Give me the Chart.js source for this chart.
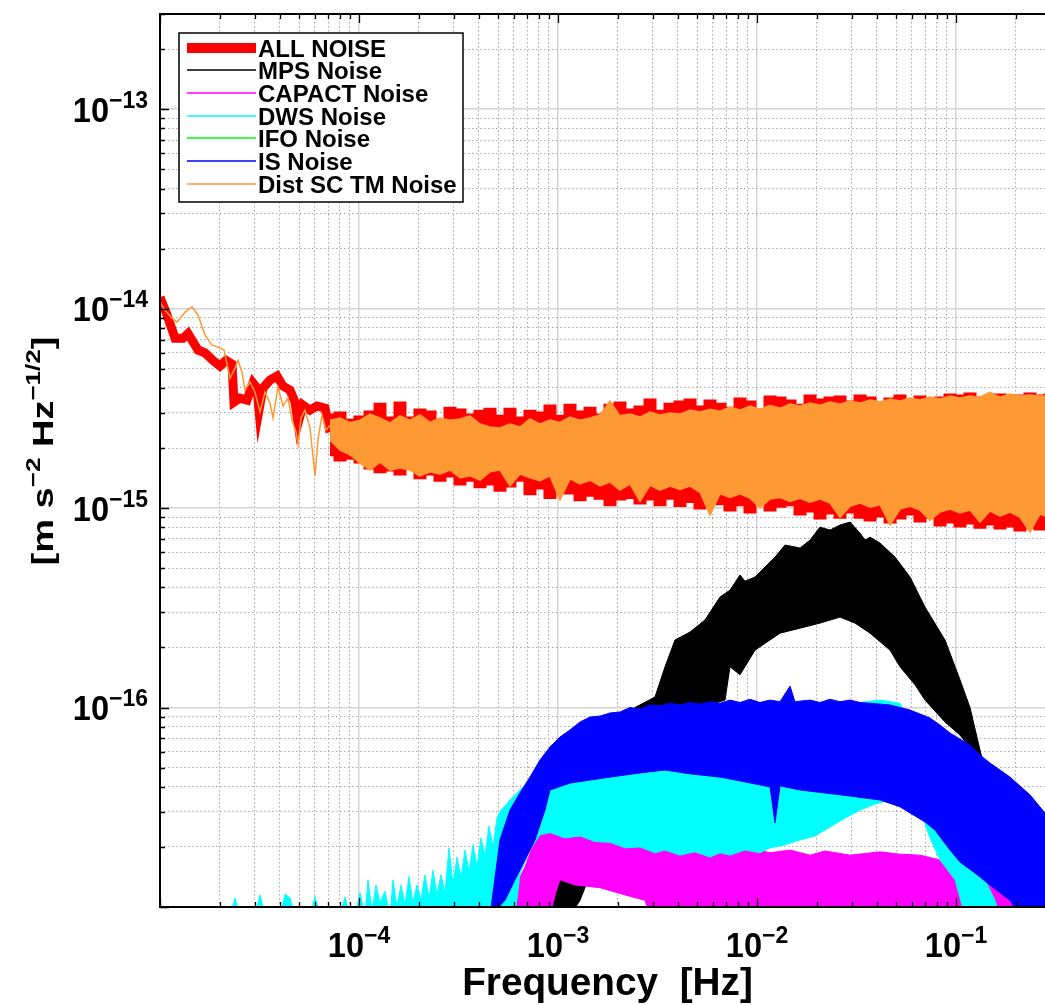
<!DOCTYPE html>
<html>
<head>
<meta charset="utf-8">
<title>Noise budget</title>
<script src="https://cdn.jsdelivr.net/npm/chart.js@4.4.1/dist/chart.umd.min.js"></script>
<style>
  html, body { margin: 0; padding: 0; background: #fff; overflow: hidden; }
  #wrap { position: relative; width: 1056px; height: 1005px; }
</style>
</head>
<body>
<div id="wrap"><canvas id="noiseChart"></canvas></div>
<script>
// axis ranges and tick decades
const X_MIN = 1.0e-5, X_MAX = 0.3144;
const Y_MIN = 1.0e-17, Y_MAX = 3.0e-13;
const X_DECADES = [1e-5, 1e-4, 1e-3, 1e-2, 1e-1];
const Y_DECADES = [1e-17, 1e-16, 1e-15, 1e-14, 1e-13];
const MANTISSAS = [1, 2, 3, 4, 5, 6, 7, 8, 9];
const X_LABELS = [1e-4, 1e-3, 1e-2, 1e-1];
const Y_LABELS = [1e-16, 1e-15, 1e-14, 1e-13];

// ALL NOISE - low frequency part (single thick trace)
const allLineFreq = [1.0e-5, 1.084e-5, 1.19e-5, 1.305e-5, 1.383e-5, 1.553e-5, 1.683e-5, 1.846e-5, 2.002e-5, 2.146e-5, 2.3e-5, 2.354e-5, 2.523e-5, 2.736e-5, 2.933e-5, 3.072e-5, 3.144e-5, 3.293e-5, 3.571e-5, 3.873e-5, 4.15e-5, 4.5e-5, 4.77e-5, 4.94e-5, 5.23e-5, 5.672e-5, 6.15e-5, 6.75e-5, 7.149e-5];
const allLineVal = [1.14e-14, 9.3e-15, 7.1e-15, 7.1e-15, 7.5e-15, 6.2e-15, 6.0e-15, 5.5e-15, 5.15e-15, 5.5e-15, 5.27e-15, 3.4e-15, 3.56e-15, 3.48e-15, 4.24e-15, 4.0e-15, 3.1e-15, 4.0e-15, 4.38e-15, 4.59e-15, 4.09e-15, 3.9e-15, 3.4e-15, 2.67e-15, 3.28e-15, 3.1e-15, 3.25e-15, 3.17e-15, 2.4e-15];

// common frequency grid for the two top bands
const bandFreq = [7.149e-5, 8.026e-5, 9.01e-5, 1.012e-4, 1.136e-4, 1.275e-4, 1.431e-4, 1.607e-4, 1.804e-4, 2.025e-4, 2.274e-4, 2.553e-4, 2.866e-4, 3.217e-4, 3.612e-4, 4.055e-4, 4.552e-4, 5.11e-4, 5.737e-4, 6.441e-4, 7.231e-4, 8.118e-4, 9.114e-4, 1.023e-3, 1.149e-3, 1.29e-3, 1.448e-3, 1.626e-3, 1.825e-3, 2.049e-3, 2.3e-3, 2.583e-3, 2.9e-3, 3.255e-3, 3.655e-3, 4.103e-3, 4.606e-3, 5.172e-3, 5.806e-3, 6.518e-3, 7.318e-3, 8.215e-3, 9.223e-3, 1.035e-2, 1.163e-2, 1.305e-2, 1.465e-2, 1.645e-2, 1.847e-2, 2.073e-2, 2.328e-2, 2.613e-2, 2.934e-2, 3.294e-2, 3.698e-2, 4.151e-2, 4.661e-2, 5.232e-2, 5.874e-2, 6.595e-2, 7.404e-2, 8.312e-2, 9.33e-2, 0.1047, 0.1176, 0.132, 0.1482, 0.1664, 0.1868, 0.2097, 0.2354, 0.2643, 0.2967, 0.3331];

// ALL NOISE - upper / lower envelope of the band
const allBandTop = [2.93e-15, 3.0e-15, 2.76e-15, 2.86e-15, 3.03e-15, 3.32e-15, 2.83e-15, 3.36e-15, 2.83e-15, 3.1e-15, 3.03e-15, 2.76e-15, 3.17e-15, 3.1e-15, 2.93e-15, 3.06e-15, 3.13e-15, 2.89e-15, 3.13e-15, 2.83e-15, 3.06e-15, 3.0e-15, 3.25e-15, 2.89e-15, 3.28e-15, 3.03e-15, 3.17e-15, 2.93e-15, 3.28e-15, 3.36e-15, 3.1e-15, 3.21e-15, 3.48e-15, 3.06e-15, 3.32e-15, 3.4e-15, 3.48e-15, 3.21e-15, 3.44e-15, 3.32e-15, 3.17e-15, 3.52e-15, 3.4e-15, 3.1e-15, 3.6e-15, 3.56e-15, 3.44e-15, 3.28e-15, 3.65e-15, 3.48e-15, 3.56e-15, 3.6e-15, 3.4e-15, 3.65e-15, 3.56e-15, 3.36e-15, 3.52e-15, 3.65e-15, 3.44e-15, 3.6e-15, 3.48e-15, 3.56e-15, 3.69e-15, 3.65e-15, 3.73e-15, 3.56e-15, 3.65e-15, 3.69e-15, 3.6e-15, 3.65e-15, 3.73e-15, 3.65e-15, 3.69e-15, 3.65e-15];
const allBandBot = [1.85e-15, 1.74e-15, 1.78e-15, 1.7e-15, 1.59e-15, 1.52e-15, 1.55e-15, 1.48e-15, 1.63e-15, 1.42e-15, 1.48e-15, 1.38e-15, 1.45e-15, 1.32e-15, 1.38e-15, 1.28e-15, 1.32e-15, 1.23e-15, 1.29e-15, 1.38e-15, 1.18e-15, 1.26e-15, 1.13e-15, 1.23e-15, 1.19e-15, 1.1e-15, 1.16e-15, 1.12e-15, 1.04e-15, 1.11e-15, 1.13e-15, 1.06e-15, 1.11e-15, 1.04e-15, 1.12e-15, 1.03e-15, 1.08e-15, 1.0e-15, 1.1e-15, 1.05e-15, 9.77e-16, 1.04e-15, 9.55e-16, 1.08e-15, 9.77e-16, 1.02e-15, 1.04e-15, 9.33e-16, 9.66e-16, 8.91e-16, 9.44e-16, 9.0e-16, 9.55e-16, 9.0e-16, 8.71e-16, 9.12e-16, 8.51e-16, 8.91e-16, 9.33e-16, 8.61e-16, 9.0e-16, 8.22e-16, 8.51e-16, 8.12e-16, 8.41e-16, 8.02e-16, 8.31e-16, 7.94e-16, 8.12e-16, 7.76e-16, 8.02e-16, 7.85e-16, 7.94e-16, 7.76e-16];

// MPS Noise
const mpsTopFreq = [8.603e-4, 9.114e-4, 1.023e-3, 1.217e-3, 1.448e-3, 1.825e-3, 2.437e-3, 3.072e-3, 3.449e-3, 3.871e-3, 4.606e-3, 5.478e-3, 6.518e-3, 7.318e-3, 8.215e-3, 8.703e-3, 9.771e-3, 1.232e-2, 1.383e-2, 1.552e-2, 1.645e-2, 1.847e-2, 2.073e-2, 2.328e-2, 2.613e-2, 2.934e-2, 3.294e-2, 3.49e-2, 3.698e-2, 4.151e-2, 4.938e-2, 5.874e-2, 6.986e-2, 8.806e-2, 0.1047, 0.1176, 0.132, 0.1482, 0.1664];
const mpsTop = [9e-18, 1.45e-17, 1.82e-17, 2.91e-17, 4.33e-17, 6.49e-17, 1.0e-16, 1.13e-16, 1.6e-16, 2.18e-16, 2.39e-16, 2.75e-16, 3.58e-16, 3.88e-16, 4.62e-16, 4.3e-16, 4.51e-16, 5.68e-16, 6.53e-16, 6.38e-16, 6.3e-16, 6.91e-16, 8.03e-16, 7.76e-16, 8.22e-16, 8.51e-16, 7.49e-16, 6.91e-16, 7.15e-16, 6.68e-16, 5.68e-16, 4.51e-16, 3.19e-16, 2.18e-16, 1.38e-16, 1.0e-16, 6.12e-17, 3.86e-17, 2.43e-17];
const mpsBotFreq = [8.603e-4, 1.149e-3, 1.29e-3, 1.448e-3, 1.825e-3, 2.437e-3, 3.255e-3, 4.606e-3, 5.806e-3, 6.905e-3, 7.318e-3, 8.215e-3, 9.771e-3, 1.305e-2, 1.645e-2, 2.073e-2, 2.613e-2, 3.108e-2, 3.698e-2, 4.661e-2, 5.232e-2, 6.223e-2, 6.986e-2, 8.806e-2, 0.1047, 0.132, 0.1482, 0.1664];
const mpsBot = [9e-18, 9e-18, 1.08e-17, 1.45e-17, 2.17e-17, 3.86e-17, 6.12e-17, 8.66e-17, 1.03e-16, 1.09e-16, 1.6e-16, 1.46e-16, 1.94e-16, 2.36e-16, 2.5e-16, 2.65e-16, 2.84e-16, 2.65e-16, 2.36e-16, 1.94e-16, 1.6e-16, 1.3e-16, 1.09e-16, 8.46e-17, 7.28e-17, 5.46e-17, 3.65e-17, 2.3e-17];

// CAPACT Noise
const capTopFreq = [5.416e-4, 5.737e-4, 6.08e-4, 6.826e-4, 7.663e-4, 8.603e-4, 9.658e-4, 1.023e-3, 1.149e-3, 1.29e-3, 1.448e-3, 1.626e-3, 1.825e-3, 2.171e-3, 2.583e-3, 3.072e-3, 3.655e-3, 4.346e-3, 5.172e-3, 6.518e-3, 7.752e-3, 9.223e-3, 1.163e-2, 1.465e-2, 1.847e-2, 2.196e-2, 2.934e-2, 4.151e-2, 5.232e-2, 6.595e-2, 8.312e-2, 0.1047, 0.132, 0.1664, 0.1868, 0.2097, 0.2222];
const capTop = [9e-18, 1.08e-17, 1.26e-17, 1.59e-17, 2.17e-17, 2.43e-17, 2.96e-17, 2.58e-17, 2.52e-17, 2.73e-17, 2.43e-17, 2.55e-17, 2.24e-17, 2.36e-17, 2.11e-17, 2.17e-17, 1.93e-17, 2.05e-17, 1.95e-17, 2.0e-17, 1.87e-17, 1.98e-17, 1.87e-17, 1.93e-17, 1.82e-17, 1.91e-17, 1.82e-17, 1.89e-17, 1.84e-17, 1.82e-17, 1.72e-17, 1.6e-17, 1.47e-17, 1.37e-17, 1.29e-17, 1.18e-17, 9e-18];
const capBotFreq = [5.416e-4, 9.114e-4, 9.658e-4, 1.023e-3, 1.217e-3, 1.626e-3, 2.171e-3, 2.736e-3, 2.9e-3, 0.2222];
const capBot = [9e-18, 9e-18, 1.15e-17, 1.37e-17, 1.29e-17, 1.25e-17, 1.15e-17, 1.08e-17, 9e-18, 9e-18];

// DWS Noise
const dwsTopFreq = [2.248e-5, 2.381e-5, 2.523e-5, 3.001e-5, 3.181e-5, 3.37e-5, 4.009e-5, 4.248e-5, 4.5e-5, 4.77e-5, 5.672e-5, 6.01e-5, 6.368e-5, 8.026e-5, 8.505e-5, 9.01e-5, 9.548e-5, 1.012e-4, 1.072e-4, 1.110e-4, 1.162e-4, 1.217e-4, 1.275e-4, 1.351e-4, 1.431e-4, 1.482e-4, 1.552e-4, 1.626e-4, 1.703e-4, 1.784e-4, 1.868e-4, 1.957e-4, 2.049e-4, 2.146e-4, 2.248e-4, 2.354e-4, 2.466e-4, 2.582e-4, 2.705e-4, 2.833e-4, 2.968e-4, 3.108e-4, 3.256e-4, 3.409e-4, 3.571e-4, 3.740e-4, 3.917e-4, 4.103e-4, 4.297e-4, 4.5e-4, 4.714e-4, 4.937e-4, 5.11e-4, 5.737e-4, 6.441e-4, 8.118e-4, 1.023e-3, 1.626e-3, 2.9e-3, 5.172e-3, 9.223e-3, 1.645e-2, 2.613e-2, 3.294e-2, 4.151e-2, 5.232e-2, 6.595e-2, 8.312e-2, 0.1047, 0.1246, 0.1399, 0.157, 0.1664];
const dwsTop = [9e-18, 1.11e-17, 9e-18, 9e-18, 1.15e-17, 9e-18, 9e-18, 1.16e-17, 1.11e-17, 9e-18, 9e-18, 1.13e-17, 9e-18, 9e-18, 1.12e-17, 9e-18, 9e-18, 1.18e-17, 9e-18, 1.37e-17, 9.5e-18, 1.29e-17, 1.05e-17, 1.2e-17, 9e-18, 1.37e-17, 1.0e-17, 1.29e-17, 1.03e-17, 1.42e-17, 1.05e-17, 1.29e-17, 1.08e-17, 1.45e-17, 1.1e-17, 1.53e-17, 1.15e-17, 1.45e-17, 1.18e-17, 1.98e-17, 1.3e-17, 1.78e-17, 1.4e-17, 1.93e-17, 1.5e-17, 2.05e-17, 1.6e-17, 2.22e-17, 1.8e-17, 2.55e-17, 2.0e-17, 2.8e-17, 3.0e-17, 3.44e-17, 3.86e-17, 4.86e-17, 6.12e-17, 8.17e-17, 8.86e-17, 9.06e-17, 9.5e-17, 9.71e-17, 1.02e-16, 1.06e-16, 1.09e-16, 1.05e-16, 6.87e-17, 4.59e-17, 2.73e-17, 1.72e-17, 1.37e-17, 1.08e-17, 9e-18];
const dwsBotFreq = [2.248e-5, 6.08e-4, 6.441e-4, 7.231e-4, 8.118e-4, 9.114e-4, 1.084e-3, 1.29e-3, 1.534e-3, 1.825e-3, 2.171e-3, 2.583e-3, 3.072e-3, 3.449e-3, 4.103e-3, 4.88e-3, 5.806e-3, 6.518e-3, 7.318e-3, 8.703e-3, 1.035e-2, 1.163e-2, 1.383e-2, 1.645e-2, 1.956e-2, 2.196e-2, 2.769e-2, 3.294e-2, 3.918e-2, 4.661e-2, 5.543e-2, 6.595e-2, 7.404e-2, 8.312e-2, 9.886e-2, 0.111, 0.1664];
const dwsBot = [9e-18, 9e-18, 1.47e-17, 1.93e-17, 2.3e-17, 2.36e-17, 2.22e-17, 2.27e-17, 2.13e-17, 2.11e-17, 1.98e-17, 2.0e-17, 1.87e-17, 1.93e-17, 1.82e-17, 1.89e-17, 1.78e-17, 1.87e-17, 1.82e-17, 1.93e-17, 1.87e-17, 1.98e-17, 2.05e-17, 2.17e-17, 2.27e-17, 2.43e-17, 2.79e-17, 3.06e-17, 3.28e-17, 3.44e-17, 3.36e-17, 3.06e-17, 2.22e-17, 1.72e-17, 1.37e-17, 9e-18, 9e-18];

// IFO Noise - stays below the plotted range, nothing visible
const ifoFreq = [];
const ifoVal = [];

// IS Noise
const isTopFreq = [4.552e-4, 5.11e-4, 5.737e-4, 6.441e-4, 7.231e-4, 8.118e-4, 9.114e-4, 1.023e-3, 1.149e-3, 1.29e-3, 1.448e-3, 1.626e-3, 1.825e-3, 2.049e-3, 2.3e-3, 2.583e-3, 2.9e-3, 3.255e-3, 3.655e-3, 4.103e-3, 4.606e-3, 5.172e-3, 5.806e-3, 6.518e-3, 7.318e-3, 8.215e-3, 9.223e-3, 1.035e-2, 1.163e-2, 1.305e-2, 1.465e-2, 1.552e-2, 1.847e-2, 2.073e-2, 2.328e-2, 2.613e-2, 2.934e-2, 3.294e-2, 3.698e-2, 4.151e-2, 4.661e-2, 5.232e-2, 5.874e-2, 6.595e-2, 7.404e-2, 8.312e-2, 9.33e-2, 0.1047, 0.1176, 0.132, 0.1482, 0.1664, 0.1868, 0.2097, 0.2354, 0.28, 0.3331];
const isTop = [9e-18, 2.17e-17, 3.06e-17, 3.73e-17, 4.48e-17, 5.46e-17, 6.34e-17, 7.11e-17, 7.72e-17, 8.46e-17, 8.96e-17, 9.06e-17, 9.39e-17, 9.5e-17, 1.0e-16, 9.83e-17, 1.03e-16, 1.02e-16, 1.05e-16, 1.03e-16, 1.06e-16, 1.04e-16, 1.07e-16, 1.05e-16, 1.09e-16, 1.06e-16, 1.1e-16, 1.06e-16, 1.09e-16, 1.07e-16, 1.28e-16, 1.07e-16, 1.09e-16, 1.06e-16, 1.1e-16, 1.07e-16, 1.09e-16, 1.06e-16, 1.05e-16, 1.04e-16, 1.03e-16, 1.0e-16, 9.71e-17, 9.28e-17, 8.86e-17, 8.17e-17, 7.45e-17, 6.95e-17, 6.49e-17, 5.78e-17, 5.27e-17, 4.86e-17, 4.48e-17, 4.04e-17, 3.65e-17, 2.96e-17, 2.67e-17];
const isBotFreq = [4.552e-4, 5.416e-4, 6.08e-4, 6.826e-4, 7.663e-4, 8.603e-4, 9.114e-4, 1.149e-3, 1.448e-3, 1.825e-3, 2.583e-3, 3.449e-3, 4.606e-3, 6.518e-3, 8.703e-3, 1.163e-2, 1.232e-2, 1.305e-2, 1.645e-2, 2.196e-2, 2.934e-2, 4.151e-2, 5.232e-2, 5.874e-2, 6.986e-2, 7.843e-2, 9.33e-2, 0.1047, 0.1246, 0.1482, 0.1664, 0.1868, 0.2097, 0.3331];
const isBot = [9e-18, 1.08e-17, 1.37e-17, 1.72e-17, 2.17e-17, 3.06e-17, 3.86e-17, 4.18e-17, 4.33e-17, 4.48e-17, 4.7e-17, 4.86e-17, 4.65e-17, 4.48e-17, 4.24e-17, 4.0e-17, 2.64e-17, 4.05e-17, 3.86e-17, 3.73e-17, 3.6e-17, 3.44e-17, 3.18e-17, 2.96e-17, 2.67e-17, 2.43e-17, 1.93e-17, 1.68e-17, 1.48e-17, 1.29e-17, 1.18e-17, 1.08e-17, 9e-18, 9e-18];

// Dist SC TM Noise - low frequency trace, then band
const distLineFreq = [1.0e-5, 1.059e-5, 1.149e-5, 1.217e-5, 1.335e-5, 1.448e-5, 1.553e-5, 1.683e-5, 1.825e-5, 1.956e-5, 2.097e-5, 2.248e-5, 2.381e-5, 2.466e-5, 2.582e-5, 2.674e-5, 2.833e-5, 3.001e-5, 3.181e-5, 3.37e-5, 3.571e-5, 3.696e-5, 3.917e-5, 4.15e-5, 4.397e-5, 4.605e-5, 4.825e-5, 4.94e-5, 5.11e-5, 5.355e-5, 5.672e-5, 6.01e-5, 6.22e-5, 6.52e-5, 6.83e-5, 7.149e-5];
const distLineVal = [1.07e-14, 9.83e-15, 8.96e-15, 8.56e-15, 9.6e-15, 1.02e-14, 9.27e-15, 7.37e-15, 6.56e-15, 6.41e-15, 6.2e-15, 4.48e-15, 5.03e-15, 5.5e-15, 4.8e-15, 3.9e-15, 4.28e-15, 3.81e-15, 3.03e-15, 3.81e-15, 3.36e-15, 2.83e-15, 4.04e-15, 3.25e-15, 3.56e-15, 2.76e-15, 2.41e-15, 2.07e-15, 2.83e-15, 3.1e-15, 2.52e-15, 1.45e-15, 2.2e-15, 2.93e-15, 2.46e-15, 2.6e-15];
const distBandTop = [2.76e-15, 2.83e-15, 2.69e-15, 2.76e-15, 2.96e-15, 2.83e-15, 2.67e-15, 2.9e-15, 2.76e-15, 2.93e-15, 2.69e-15, 2.83e-15, 2.76e-15, 2.8e-15, 2.9e-15, 2.64e-15, 2.55e-15, 2.52e-15, 2.64e-15, 2.55e-15, 2.8e-15, 2.64e-15, 2.76e-15, 2.69e-15, 2.86e-15, 2.76e-15, 2.83e-15, 2.93e-15, 3.44e-15, 2.9e-15, 2.96e-15, 2.86e-15, 3.03e-15, 2.93e-15, 3.0e-15, 2.96e-15, 3.1e-15, 3.03e-15, 3.13e-15, 3.06e-15, 3.21e-15, 3.1e-15, 3.25e-15, 3.13e-15, 3.28e-15, 3.17e-15, 3.32e-15, 3.25e-15, 3.36e-15, 3.28e-15, 3.4e-15, 3.32e-15, 3.44e-15, 3.36e-15, 3.48e-15, 3.4e-15, 3.52e-15, 3.44e-15, 3.56e-15, 3.48e-15, 3.6e-15, 3.52e-15, 3.65e-15, 3.56e-15, 3.65e-15, 3.6e-15, 3.8e-15, 3.6e-15, 3.73e-15, 3.65e-15, 3.69e-15, 3.65e-15, 3.65e-15, 3.65e-15];
const distBandBot = [2.19e-15, 1.95e-15, 1.85e-15, 1.68e-15, 1.55e-15, 1.7e-15, 1.55e-15, 1.59e-15, 1.55e-15, 1.45e-15, 1.52e-15, 1.48e-15, 1.55e-15, 1.42e-15, 1.45e-15, 1.38e-15, 1.52e-15, 1.55e-15, 1.29e-15, 1.48e-15, 1.42e-15, 1.37e-15, 1.45e-15, 1.1e-15, 1.4e-15, 1.32e-15, 1.38e-15, 1.29e-15, 1.35e-15, 1.23e-15, 1.32e-15, 1.08e-15, 1.3e-15, 1.23e-15, 1.29e-15, 1.24e-15, 1.29e-15, 1.2e-15, 9.22e-16, 1.18e-15, 1.13e-15, 1.18e-15, 1.12e-15, 1.0e-15, 1.11e-15, 1.13e-15, 1.08e-15, 1.12e-15, 1.07e-15, 1.11e-15, 1.06e-15, 9.0e-16, 1.02e-15, 1.06e-15, 1.01e-15, 1.04e-15, 8.22e-16, 9.88e-16, 1.02e-15, 9.77e-16, 8.7e-16, 9.55e-16, 9.88e-16, 9.44e-16, 9.77e-16, 8.5e-16, 9.66e-16, 9.12e-16, 9.55e-16, 9.0e-16, 7.58e-16, 9.33e-16, 8.91e-16, 9.12e-16];

const FONT = '"Liberation Sans", Arial, Helvetica, sans-serif';
const MINUS = '\u2212';

function toPoints(freqs, vals) {
    return freqs.map((f, i) => ({ x: f, y: vals[i] }));
}

function isDecade(v) {
    const l = Math.log10(v);
    return Math.abs(l - Math.round(l)) < 1e-6;
}

function buildTicks(decades, min, max) {
    const out = [];
    decades.forEach(d => {
        MANTISSAS.forEach(m => {
            const v = Number((m * d).toPrecision(6));
            if (v >= min && v <= max) out.push({ value: v });
        });
    });
    return out;
}

// one trace of a series (a line, or the upper edge of a filled band)
function trace(label, data, color, width, order, extra) {
    return Object.assign({
        label: label,
        data: data,
        borderColor: color,
        backgroundColor: color,
        borderWidth: width,
        pointRadius: 0,
        tension: 0,
        fill: false,
        order: order
    }, extra || {});
}

// upper + lower edge pair, upper one fills down to the lower one
function band(label, topFreq, top, botFreq, bot, color, width, order, extra) {
    return [
        trace(label, toPoints(topFreq, top), color, width, order, Object.assign({ fill: '+1' }, extra || {})),
        trace(label, toPoints(botFreq, bot), color, width, order, extra)
    ];
}

const datasets = [
    trace('ALL NOISE', toPoints(allLineFreq, allLineVal), '#ff0000', 9, 7),
    ...band('ALL NOISE', bandFreq, allBandTop, bandFreq, allBandBot, '#ff0000', 3, 7, { stepped: 'middle' }),
    ...band('MPS Noise', mpsTopFreq, mpsTop, mpsBotFreq, mpsBot, '#000000', 1, 6),
    ...band('CAPACT Noise', capTopFreq, capTop, capBotFreq, capBot, '#ff00ff', 1, 5),
    ...band('DWS Noise', dwsTopFreq, dwsTop, dwsBotFreq, dwsBot, '#00ffff', 1, 4),
    trace('IFO Noise', toPoints(ifoFreq, ifoVal), '#00ff00', 1, 3),
    ...band('IS Noise', isTopFreq, isTop, isBotFreq, isBot, '#0000ff', 1, 2),
    trace('Dist SC TM Noise', toPoints(distLineFreq, distLineVal), '#ff9933', 1.5, 1),
    ...band('Dist SC TM Noise', bandFreq, distBandTop, bandFreq, distBandBot, '#ff9933', 1.5, 1)
];

// legend entries: first dataset of each label
const legendEntries = [];
datasets.forEach(ds => {
    if (!legendEntries.find(e => e.label === ds.label)) {
        legendEntries.push({ label: ds.label, color: ds.borderColor, width: ds.label === 'ALL NOISE' ? 10 : 1.5 });
    }
});

function drawSqueezed(ctx, text, x, y, size, sx) {
    ctx.save();
    ctx.font = `bold ${size}px ${FONT}`;
    ctx.translate(x, y);
    ctx.scale(sx, 1);
    ctx.fillText(text, 0, 0);
    ctx.restore();
}

function textWidth(ctx, text, size, sx) {
    ctx.save();
    ctx.font = `bold ${size}px ${FONT}`;
    const w = ctx.measureText(text).width * sx;
    ctx.restore();
    return w;
}

// "10" with a raised exponent
function drawPower(ctx, exp, x, y, align) {
    const BASE = 35, BASE_SQ = 0.93, SUP = 23, RAISE = 14;
    const expText = (exp < 0 ? MINUS : '') + Math.abs(exp);
    const wb = textWidth(ctx, '10', BASE, BASE_SQ);
    const we = textWidth(ctx, expText, SUP, 1);
    const left = align === 'center' ? x - (wb + we) / 2 : x - wb - we;
    drawSqueezed(ctx, '10', left, y, BASE, BASE_SQ);
    drawSqueezed(ctx, expText, left + wb, y - RAISE, SUP, 1);
}

const matlabAxes = {
    id: 'matlabAxes',
    afterDatasetsDraw(chart) {
        const { ctx, chartArea: a, scales } = chart;
        const xs = scales.x, ys = scales.y;
        ctx.save();
        ctx.strokeStyle = '#000';
        ctx.lineWidth = 1.3;
        ctx.beginPath();
        xs.ticks.forEach(t => {
            const px = Math.round(xs.getPixelForValue(t.value)) + 0.5;
            const len = isDecade(t.value) ? 9 : 5;
            ctx.moveTo(px, a.bottom); ctx.lineTo(px, a.bottom - len);
            ctx.moveTo(px, a.top); ctx.lineTo(px, a.top + len);
        });
        ys.ticks.forEach(t => {
            const py = Math.round(ys.getPixelForValue(t.value)) + 0.5;
            const len = isDecade(t.value) ? 9 : 5;
            ctx.moveTo(a.left, py); ctx.lineTo(a.left + len, py);
            ctx.moveTo(a.right, py); ctx.lineTo(a.right - len, py);
        });
        ctx.stroke();
        ctx.lineWidth = 2;
        ctx.strokeRect(a.left, a.top, a.right - a.left, a.bottom - a.top);

        // legend box
        const box = { left: 179, top: 33, right: 463, bottom: 202 };
        ctx.fillStyle = '#fff';
        ctx.fillRect(box.left, box.top, box.right - box.left, box.bottom - box.top);
        ctx.lineWidth = 1.5;
        ctx.strokeStyle = '#000';
        ctx.strokeRect(box.left, box.top, box.right - box.left, box.bottom - box.top);
        const rowY = [48, 70, 93, 116, 138, 161, 184];
        legendEntries.forEach((e, i) => {
            const yy = rowY[i];
            ctx.beginPath();
            ctx.strokeStyle = e.color;
            ctx.lineWidth = e.width;
            ctx.moveTo(187, yy); ctx.lineTo(256, yy);
            ctx.stroke();
            ctx.fillStyle = '#000';
            drawSqueezed(ctx, e.label, 258, yy + 8.5, 24, 1);
        });
        ctx.restore();
    },
    afterDraw(chart) {
        const { ctx, chartArea: a, scales } = chart;
        ctx.save();
        ctx.fillStyle = '#000';
        ctx.textBaseline = 'alphabetic';
        X_LABELS.forEach(v => {
            drawPower(ctx, Math.round(Math.log10(v)), scales.x.getPixelForValue(v), 957, 'center');
        });
        Y_LABELS.forEach(v => {
            drawPower(ctx, Math.round(Math.log10(v)), 148, scales.y.getPixelForValue(v) + 12.5, 'right');
        });

        // x title
        const xt = 'Frequency  [Hz]';
        const xw = textWidth(ctx, xt, 38, 1.02);
        drawSqueezed(ctx, xt, (a.left + a.right) / 2 - xw / 2, 995, 38, 1.02);

        // y title, rotated, a bit flattened across its height
        const parts = [['[m s', false], [MINUS + '2', true], [' Hz', false], [MINUS + '1/2', true], [']', false]];
        const NORM = 38, SUP = 26;
        let total = 0;
        parts.forEach(p => { total += textWidth(ctx, p[0], p[1] ? SUP : NORM, 1); });
        ctx.translate(53, 451);
        ctx.rotate(-Math.PI / 2);
        ctx.scale(1, 0.8);
        let cx = -total / 2;
        parts.forEach(p => {
            const size = p[1] ? SUP : NORM;
            drawSqueezed(ctx, p[0], cx, p[1] ? -16 : 0, size, 1);
            cx += textWidth(ctx, p[0], size, 1);
        });
        ctx.restore();
    }
};

const xTicks = buildTicks(X_DECADES, X_MIN, X_MAX);
const yTicks = buildTicks(Y_DECADES, Y_MIN, Y_MAX);

function gridColor(ctx) {
    if (!ctx.tick) return 'rgba(0,0,0,0)';
    return isDecade(ctx.tick.value) ? '#d4d4d4' : '#a8a8a8';
}
function gridDash(ctx) {
    if (!ctx.tick) return [];
    return isDecade(ctx.tick.value) ? [] : [1.5, 2.5];
}

new Chart(document.getElementById('noiseChart'), {
    type: 'line',
    data: { datasets: datasets },
    options: {
        responsive: true,
        maintainAspectRatio: false,
        animation: false,
        normalized: true,
        events: [],
        layout: { padding: { left: 160, top: 14, right: 1, bottom: 98 } },
        plugins: {
            legend: { display: false },
            tooltip: { enabled: false },
            title: { display: false }
        },
        scales: {
            x: {
                type: 'logarithmic',
                min: X_MIN,
                max: X_MAX,
                afterBuildTicks: scale => { scale.ticks = xTicks.map(t => ({ value: t.value })); },
                ticks: { display: false },
                grid: { drawTicks: false, color: gridColor, lineWidth: ctx => (ctx.tick && isDecade(ctx.tick.value)) ? 1.5 : 1 },
                border: { display: false, dash: gridDash }
            },
            y: {
                type: 'logarithmic',
                min: Y_MIN,
                max: Y_MAX,
                afterBuildTicks: scale => { scale.ticks = yTicks.map(t => ({ value: t.value })); },
                ticks: { display: false },
                grid: { drawTicks: false, color: gridColor, lineWidth: ctx => (ctx.tick && isDecade(ctx.tick.value)) ? 1.5 : 1 },
                border: { display: false, dash: gridDash }
            }
        }
    },
    plugins: [matlabAxes]
});
</script>
</body>
</html>
